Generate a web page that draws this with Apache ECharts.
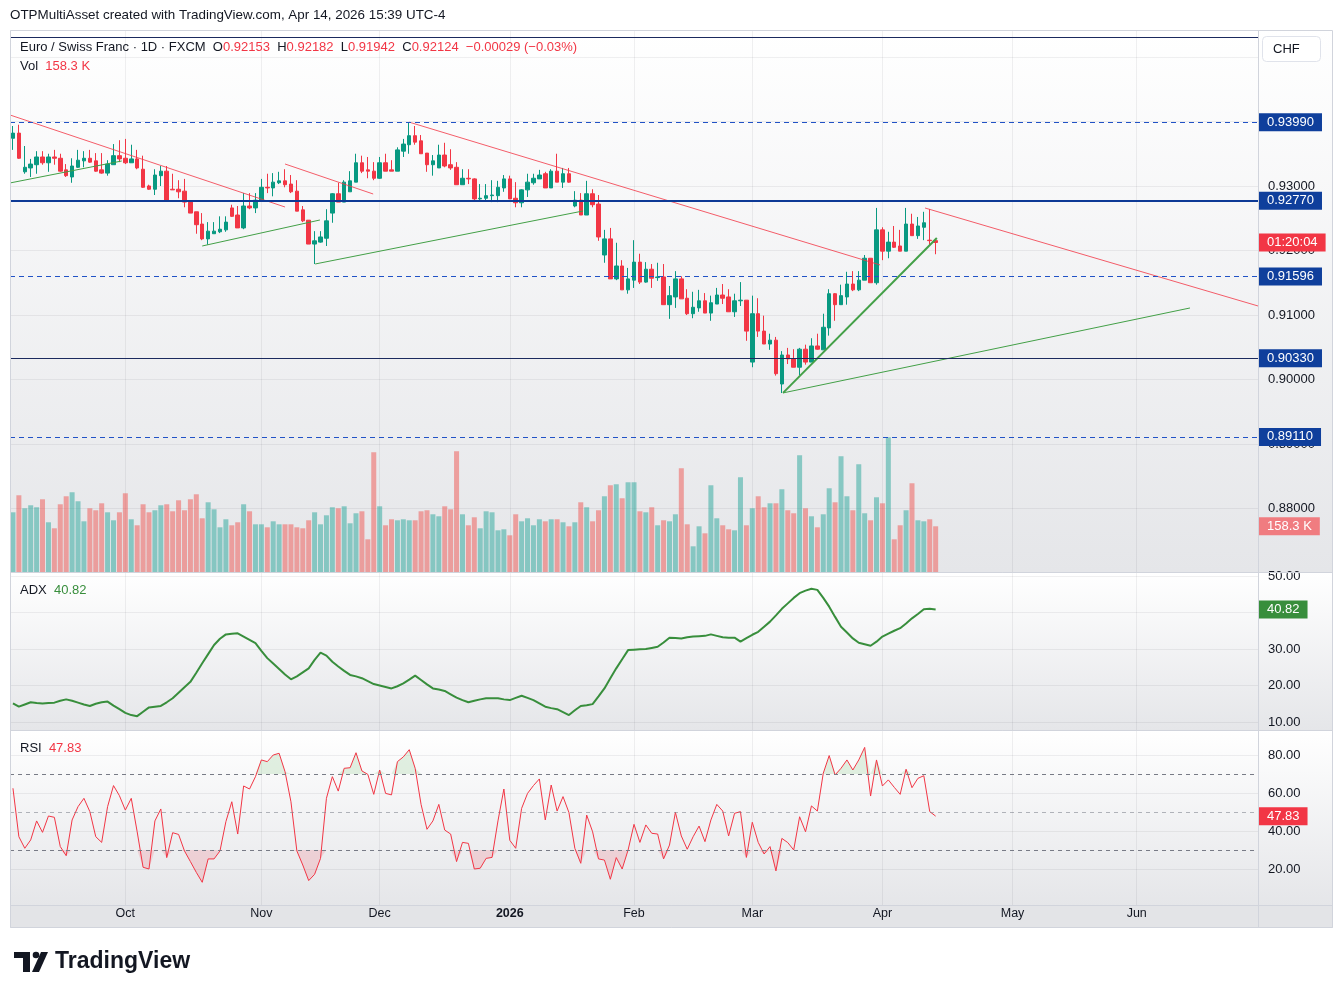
<!DOCTYPE html>
<html><head><meta charset="utf-8">
<script src="https://cdn.jsdelivr.net/npm/echarts@6/dist/echarts.min.js"></script>
<style>html,body{margin:0;padding:0;background:#fff;}#c{width:1343px;height:996px;}</style>
</head><body><div id="c"></div>
<script>
// ---------------- DATA ----------------
const opens = [0.9374,0.9382,0.9322,0.9328,0.9333,0.9345,0.9336,0.9345,0.9343,0.9325,
0.9314,0.9329,0.9339,0.9343,0.9339,0.9325,0.9320,0.9333,0.9347,0.9343,
0.9336,0.9342,0.9326,0.9300,0.9295,0.9316,0.9323,0.9295,0.9295,0.9292,
0.9275,0.9260,0.9241,0.9218,0.9226,0.9229,0.9232,0.9266,0.9255,0.9235,
0.9269,0.9266,0.9277,0.9298,0.9297,0.9305,0.9308,0.9303,0.9292,0.9263,
0.9247,0.9210,0.9213,0.9219,0.9258,0.9288,0.9275,0.9291,0.9306,0.9336,
0.9325,0.9323,0.9312,0.9336,0.9325,0.9323,0.9354,0.9364,0.9378,0.9370,
0.9351,0.9333,0.9328,0.9348,0.9333,0.9329,0.9302,0.9312,0.9311,0.9280,
0.9281,0.9285,0.9285,0.9297,0.9311,0.9281,0.9274,0.9294,0.9305,0.9311,
0.9319,0.9297,0.9323,0.9306,0.9319,0.9269,0.9278,0.9255,0.9288,0.9272,
0.9193,0.9218,0.9156,0.9176,0.9139,0.9154,0.9182,0.9151,0.9171,0.9158,
0.9159,0.9116,0.9128,0.9156,0.9126,0.9102,0.9111,0.9122,0.9103,0.9117,
0.9131,0.9128,0.9105,0.9122,0.9123,0.9027,0.9102,0.9075,0.9055,0.9061,
0.8993,0.9038,0.9032,0.9019,0.9047,0.9027,0.9052,0.9046,0.9080,0.9133,
0.9116,0.9128,0.9148,0.9139,0.9154,0.9188,0.9150,0.9232,0.9199,0.9213,
0.9207,0.9199,0.9241,0.9223,0.9236,0.9216,0.92153];
const highs = [0.9393,0.9395,0.9362,0.9342,0.9354,0.9354,0.9350,0.9356,0.9350,0.9334,
0.9343,0.9356,0.9354,0.9356,0.9351,0.9351,0.9340,0.9365,0.9371,0.9373,
0.9364,0.9356,0.9347,0.9302,0.9326,0.9331,0.9331,0.9319,0.9309,0.9311,
0.9278,0.9260,0.9258,0.9244,0.9244,0.9253,0.9253,0.9271,0.9269,0.9289,
0.9289,0.9289,0.9311,0.9319,0.9320,0.9322,0.9326,0.9317,0.9309,0.9269,
0.9247,0.9230,0.9230,0.9264,0.9289,0.9305,0.9309,0.9323,0.9350,0.9347,
0.9345,0.9337,0.9345,0.9350,0.9340,0.9360,0.9373,0.9399,0.9393,0.9379,
0.9351,0.9348,0.9364,0.9367,0.9357,0.9337,0.9326,0.9326,0.9312,0.9303,
0.9303,0.9309,0.9308,0.9317,0.9316,0.9306,0.9295,0.9319,0.9319,0.9325,
0.9322,0.9326,0.9350,0.9328,0.9328,0.9292,0.9289,0.9308,0.9295,0.9286,
0.9232,0.9235,0.9212,0.9185,0.9173,0.9216,0.9195,0.9182,0.9179,0.9181,
0.9179,0.9145,0.9168,0.9160,0.9140,0.9136,0.9139,0.9134,0.9130,0.9142,
0.9148,0.9140,0.9133,0.9151,0.9123,0.9130,0.9126,0.9099,0.9071,0.9066,
0.9044,0.9049,0.9047,0.9049,0.9054,0.9064,0.9071,0.9102,0.9140,0.9134,
0.9147,0.9167,0.9168,0.9168,0.9193,0.9188,0.9266,0.9236,0.9229,0.9238,
0.9232,0.9266,0.9257,0.9252,0.9260,0.9264,0.92182];
const lows = [0.9356,0.9342,0.9319,0.9314,0.9319,0.9333,0.9322,0.9333,0.9322,0.9314,
0.9305,0.9328,0.9329,0.9336,0.9322,0.9319,0.9316,0.9333,0.9337,0.9334,
0.9336,0.9326,0.9297,0.9294,0.9286,0.9300,0.9278,0.9294,0.9281,0.9267,
0.9258,0.9226,0.9216,0.9209,0.9226,0.9227,0.9229,0.9252,0.9235,0.9233,
0.9264,0.9258,0.9277,0.9289,0.9284,0.9303,0.9298,0.9289,0.9261,0.9244,
0.9210,0.9179,0.9212,0.9207,0.9243,0.9275,0.9275,0.9291,0.9306,0.9320,
0.9312,0.9309,0.9311,0.9323,0.9323,0.9323,0.9345,0.9350,0.9364,0.9350,
0.9322,0.9316,0.9328,0.9329,0.9325,0.9302,0.9302,0.9303,0.9278,0.9277,
0.9278,0.9275,0.9275,0.9291,0.9280,0.9267,0.9267,0.9283,0.9302,0.9311,
0.9297,0.9297,0.9306,0.9297,0.9305,0.9267,0.9255,0.9255,0.9267,0.9215,
0.9181,0.9156,0.9154,0.9139,0.9133,0.9142,0.9148,0.9150,0.9142,0.9153,
0.9116,0.9094,0.9111,0.9125,0.9100,0.9095,0.9105,0.9103,0.9091,0.9117,
0.9117,0.9105,0.9097,0.9114,0.9060,0.9019,0.9066,0.9055,0.9046,0.9006,
0.8979,0.9024,0.9019,0.9007,0.9023,0.9027,0.9046,0.9046,0.9068,0.9091,
0.9116,0.9116,0.9137,0.9137,0.9154,0.9150,0.9147,0.9185,0.9188,0.9204,
0.9199,0.9199,0.9223,0.9218,0.9216,0.9209,0.91942];
const closes = [0.9382,0.9343,0.9329,0.9334,0.9345,0.9336,0.9345,0.9343,0.9323,0.9316,
0.9331,0.9340,0.9343,0.9337,0.9323,0.9320,0.9334,0.9347,0.9342,0.9336,
0.9342,0.9328,0.9298,0.9295,0.9317,0.9323,0.9278,0.9294,0.9291,0.9275,
0.9258,0.9240,0.9218,0.9230,0.9230,0.9233,0.9244,0.9253,0.9235,0.9269,
0.9266,0.9278,0.9298,0.9297,0.9306,0.9308,0.9302,0.9291,0.9261,0.9246,
0.9210,0.9215,0.9221,0.9246,0.9288,0.9275,0.9306,0.9308,0.9336,0.9323,
0.9323,0.9312,0.9336,0.9323,0.9323,0.9356,0.9365,0.9378,0.9368,0.9350,
0.9333,0.9339,0.9348,0.9331,0.9328,0.9302,0.9312,0.9311,0.9280,0.9281,
0.9285,0.9286,0.9298,0.9311,0.9280,0.9274,0.9294,0.9306,0.9312,0.9317,
0.9297,0.9323,0.9306,0.9319,0.9306,0.9278,0.9255,0.9288,0.9271,0.9221,
0.9218,0.9156,0.9176,0.9139,0.9156,0.9182,0.9151,0.9171,0.9157,0.9159,
0.9116,0.9130,0.9156,0.9125,0.9102,0.9112,0.9122,0.9103,0.9119,0.9131,
0.9126,0.9105,0.9122,0.9123,0.9075,0.9102,0.9075,0.9055,0.9061,0.9009,
0.9038,0.9032,0.9019,0.9047,0.9027,0.9052,0.9047,0.9081,0.9133,0.9116,
0.9130,0.9148,0.9139,0.9154,0.9188,0.9150,0.9232,0.9199,0.9213,0.9205,
0.9199,0.9241,0.9223,0.9238,0.9243,0.92153,0.92124];
const volumesK = [206.8,265.8,220.7,231.1,224.2,251.9,172.2,151.4,234.6,262.3,
276.2,245.0,175.6,220.7,213.8,238.0,206.8,179.1,206.8,272.7,
182.6,161.8,234.6,206.8,213.8,231.1,234.6,210.3,248.4,213.8,
251.9,269.2,186.0,241.5,217.2,154.8,182.6,161.8,172.2,234.6,
210.3,165.2,165.2,154.8,175.6,165.2,165.2,165.2,154.8,151.4,
179.1,206.8,165.2,196.4,224.2,220.7,227.6,168.7,203.4,210.3,
113.2,414.8,227.6,161.8,182.6,179.1,182.6,179.1,179.1,210.3,
213.8,199.9,193.0,227.6,217.2,418.3,199.9,161.8,189.5,151.4,
210.3,206.8,144.4,147.9,127.1,199.9,175.6,186.0,161.8,182.6,
175.6,182.6,182.6,172.2,158.3,172.2,241.5,224.2,175.6,213.8,
262.3,300.4,303.9,255.4,310.8,310.8,210.3,206.8,224.2,161.8,
179.1,175.6,199.9,359.4,165.2,89.0,158.3,134.0,300.4,186.0,
161.8,147.9,144.4,328.2,161.8,220.7,262.3,224.2,238.0,238.0,
286.6,213.8,203.4,404.4,220.7,193.0,154.8,199.9,290.0,241.5,
401.0,262.3,213.8,373.2,203.4,179.1,258.8,238.0,466.8,113.2,
161.8,213.8,307.4,179.1,175.6,182.6,158.3];
const adxValues = [15.1,14.2,14.8,15.4,15.2,15.1,15.2,15.3,15.8,16.2,
15.8,15.3,14.8,14.4,15.0,15.4,15.6,14.5,13.5,12.5,
11.9,11.6,12.8,14.0,14.2,14.4,15.4,16.5,18.0,19.5,
21.0,23.5,26.1,28.6,31.1,32.8,34.0,34.2,34.3,33.4,
32.5,31.6,29.5,27.5,26.0,24.5,23.0,21.7,22.5,23.6,
24.7,27.0,29.0,28.2,26.5,25.2,24.0,22.9,22.5,22.0,
21.2,20.4,20.0,19.6,19.2,19.8,20.6,21.6,22.7,21.5,
20.3,19.2,18.9,18.5,17.6,16.7,16.0,15.4,15.8,16.2,
16.5,16.5,16.5,16.2,16.0,16.6,17.2,16.6,16.0,15.1,
14.2,13.8,13.5,12.7,11.9,13.2,14.4,14.6,14.9,17.0,
19.2,22.0,24.7,27.2,29.7,29.8,29.9,30.0,30.3,30.6,
31.8,33.1,33.0,32.9,33.2,33.4,33.5,33.6,34.0,33.6,
33.2,33.1,33.1,32.0,33.0,33.9,34.7,36.1,37.5,39.2,
41.0,42.5,44.0,45.3,46.0,46.5,46.2,44.0,41.6,38.8,
36.1,34.5,32.9,31.7,31.3,30.9,32.0,33.4,34.2,35.0,
35.7,37.0,38.4,39.6,40.9,41.0,40.82];
const rsiValues = [62.5,37.0,30.9,35.3,45.3,39.3,47.9,47.2,31.8,27.0,
45.8,52.8,57.2,50.2,37.0,34.0,52.8,63.9,58.6,51.0,
57.2,39.6,20.9,20.0,45.3,51.6,26.0,39.1,38.2,29.5,
23.9,18.2,13.0,25.3,25.3,29.5,44.9,55.4,38.4,63.7,
62.1,68.6,77.4,76.5,80.0,80.9,71.2,55.4,29.5,22.1,
13.9,17.2,25.6,57.2,68.6,61.0,73.0,73.3,81.2,71.6,
69.8,59.3,72.1,59.8,59.0,76.5,79.0,82.8,73.0,54.0,
40.9,45.3,54.0,40.5,38.4,23.9,34.0,33.5,20.0,20.4,
25.6,26.1,45.3,62.1,35.1,30.9,51.9,59.8,63.9,67.4,
45.8,64.2,50.5,58.1,49.7,30.9,23.0,48.4,39.6,25.3,
24.7,14.6,26.0,20.0,30.0,43.5,34.0,43.2,38.8,38.4,
25.3,32.6,49.8,37.4,30.4,37.0,42.6,34.4,45.8,54.0,
50.5,37.4,49.3,50.2,26.1,44.6,34.0,27.9,31.8,19.0,
36.1,33.9,30.0,47.5,39.6,53.2,50.5,70.4,79.7,69.5,
73.0,77.4,72.1,77.4,84.0,58.4,77.4,63.7,66.9,63.0,
59.3,72.5,62.8,67.7,69.1,50.2,47.83];
// horizontal levels drawn on the chart
const levelPrices = [0.93990, 0.92770, 0.91596, 0.90330, 0.89110];
const topLinePrice = 0.9531;
// trend lines: [[barIndex, price], [barIndex, price]]
const redTrendlines = [
  [[-0.5, 0.94101], [46.0, 0.92674]],
  [[46.0, 0.93341], [60.9, 0.92876]],
  [[67.0, 0.93990], [146.6, 0.91776]],
  [[154.2, 0.92659], [210.5, 0.91140]]
];
const greenTrendlines = [
  [[-0.5, 0.93047], [18.4, 0.93388]],
  [[32.0, 0.92070], [51.9, 0.92473]],
  [[51.1, 0.91791], [96.4, 0.92613]],
  [[130.2, 0.89792], [156.2, 0.92194]],
  [[130.2, 0.89792], [199.0, 0.91109]]
];
const rsiBands = [70, 50, 30];
const countdownText = '01:20:04';
const firstDate = '2025-09-04';
const holidays = ['2025-12-25', '2026-01-01'];
const totalSlots = 211;   // 157 trading days + empty future space
const monthNames = ['Jan','Feb','Mar','Apr','May','Jun','Jul','Aug','Sep','Oct','Nov','Dec'];

// ---------------- STYLES ----------------
const FONT = '"Liberation Sans", Arial, sans-serif';
const UP = '#089981', DOWN = '#f23645';
const VOL_UP = 'rgba(38,166,154,0.5)', VOL_DOWN = 'rgba(239,83,80,0.5)';
const LEVEL_BLUE = '#2152c6';
const LABEL_BLUE = '#0f3f9c';
const levelStyles = [
  {type:[5,4], width:1, color:LEVEL_BLUE},
  {type:'solid', width:2, color:'#0d3a96'},
  {type:[5,4], width:1, color:LEVEL_BLUE},
  {type:'solid', width:1, color:'#1b2a5e'},
  {type:[5,4], width:1, color:LEVEL_BLUE}
];
const TEXT = '#131722';
const GRIDLINE = 'rgba(42,46,57,0.07)';
const HIDDEN_LINE = {color:'rgba(0,0,0,0)', width:1};

// ---------------- BUILD ----------------
const dates = [];
(function(){
  const d = new Date(firstDate + 'T00:00:00Z');
  while (dates.length < totalSlots) {
    const wd = d.getUTCDay();
    const s = d.toISOString().slice(0,10);
    if (wd !== 0 && wd !== 6 && holidays.indexOf(s) < 0) dates.push(s);
    d.setUTCDate(d.getUTCDate() + 1);
  }
})();
function isMonthStart(i){ return i > 0 && dates[i].slice(5,7) !== dates[i-1].slice(5,7); }
function monthLabel(v){
  const m = parseInt(v.slice(5,7),10)-1;
  return m === 0 ? '{b|' + v.slice(0,4) + '}' : monthNames[m];
}
const n = closes.length;
const last = n - 1;
const candleData = opens.map((o,i)=>[o, closes[i], lows[i], highs[i]]);
const volData = volumesK.map((v,i)=>({value:v, itemStyle:{color: closes[i] >= opens[i] ? VOL_UP : VOL_DOWN}}));
const rsiObBase = rsiValues.map(()=>70);
const rsiObTop = rsiValues.map(v=>Math.max(v-70,0));
const rsiOsBase = rsiValues.map(v=>Math.min(v,30));
const rsiOsTop = rsiValues.map(v=>30-Math.min(v,30));

const chg = closes[last] - closes[last-1];
const chgPct = chg / closes[last-1] * 100;
const fmtSigned = (x, d) => (x < 0 ? '\u2212' : '+') + Math.abs(x).toFixed(d);

function axisLabelBox(text, bg){
  return {show:true, position:'end', distance:1, formatter:text, color:'#fff', backgroundColor:bg,
    padding:[3,8,2,8], fontSize:13, fontFamily:FONT, lineHeight:13, opacity:1};
}

const catX = (gridIndex, showLabels) => ({
  type:'category', gridIndex, data:dates, boundaryGap:true,
  axisLine:{show:false}, axisTick:{show:false},
  axisLabel: showLabels ? {
    show:true, interval:(i)=>isMonthStart(i), formatter:(v)=>monthLabel(v),
    color:TEXT, fontSize:12.5, fontFamily:FONT, margin:2,
    rich:{b:{fontWeight:'bold', fontSize:12.5, fontFamily:FONT, color:TEXT}}
  } : {show:false},
  splitLine:{show:true, interval:(i)=>isMonthStart(i), alignWithLabel:true, lineStyle:{color:GRIDLINE, width:1}}
});

const bgGrad = () => new echarts.graphic.LinearGradient(0,0,0,1,[{offset:0,color:'#ffffff'},{offset:1,color:'#e5e6e9'}]);

const series = [];
series.push({
  type:'candlestick', name:'EURCHF', xAxisIndex:0, yAxisIndex:0, data:candleData, barWidth:4, z:3, clip:false,
  itemStyle:{color:UP, color0:DOWN, borderColor:UP, borderColor0:DOWN, borderWidth:1},
  markLine:{symbol:['none','none'], silent:true, animation:false, precision:6,
    data: levelPrices.map((p,k)=>({yAxis:p, lineStyle:levelStyles[k], label:axisLabelBox(p.toFixed(5), LABEL_BLUE)}))
      .concat([{yAxis:topLinePrice, lineStyle:{type:'solid', width:1, color:'#1b2a5e'}, label:{show:false}},
               {yAxis:closes[last], lineStyle:HIDDEN_LINE, label:axisLabelBox(countdownText, '#f23645')}])
  }
});
series.push({
  type:'bar', name:'Volume', xAxisIndex:0, yAxisIndex:1, data:volData, barWidth:5, z:1, clip:false,
  markLine:{symbol:['none','none'], silent:true, animation:false, precision:6,
    data:[{yAxis:volumesK[last], lineStyle:HIDDEN_LINE, label:axisLabelBox(volumesK[last].toFixed(1)+' K', '#f07c80')}]}
});
redTrendlines.forEach(seg=>series.push({type:'line', xAxisIndex:1, yAxisIndex:0, data:seg, symbol:'none', silent:true, z:4,
  lineStyle:{color:'rgba(242,54,69,0.8)', width:1}}));
greenTrendlines.forEach((seg,k)=>series.push({type:'line', xAxisIndex:1, yAxisIndex:0, data:seg, symbol:'none', silent:true, z:4,
  lineStyle:{color:'#43a047', width: k===3 ? 2 : 1}}));
series.push({
  type:'line', name:'ADX', xAxisIndex:2, yAxisIndex:2, data:adxValues, symbol:'none', z:3, clip:false,
  lineStyle:{color:'#388e3c', width:2},
  markLine:{symbol:['none','none'], silent:true, animation:false, precision:6,
    data:[{yAxis:adxValues[last], lineStyle:HIDDEN_LINE, label:axisLabelBox(adxValues[last].toFixed(2), '#388e3c')}]}
});
series.push({type:'line', xAxisIndex:3, yAxisIndex:3, data:rsiObBase, stack:'ob', symbol:'none', silent:true, lineStyle:{opacity:0}, z:1});
series.push({type:'line', xAxisIndex:3, yAxisIndex:3, data:rsiObTop, stack:'ob', symbol:'none', silent:true, lineStyle:{opacity:0}, z:1,
  areaStyle:{color:'rgba(76,175,80,0.22)'}});
series.push({type:'line', xAxisIndex:3, yAxisIndex:3, data:rsiOsBase, stack:'os', symbol:'none', silent:true, lineStyle:{opacity:0}, z:1});
series.push({type:'line', xAxisIndex:3, yAxisIndex:3, data:rsiOsTop, stack:'os', symbol:'none', silent:true, lineStyle:{opacity:0}, z:1,
  areaStyle:{color:'rgba(242,54,69,0.22)'}});
series.push({
  type:'line', name:'RSI', xAxisIndex:3, yAxisIndex:3, data:rsiValues, symbol:'none', z:3, clip:false,
  lineStyle:{color:'#f23645', width:1},
  markLine:{symbol:['none','none'], silent:true, animation:false, precision:6,
    data: rsiBands.map(b=>({yAxis:b, label:{show:false},
      lineStyle:{type:[4,4], width:1, color: b===50 ? 'rgba(120,123,134,0.55)' : '#787b86'}}))
      .concat([{yAxis:rsiValues[last], lineStyle:HIDDEN_LINE, label:axisLabelBox(rsiValues[last].toFixed(2), '#f23645')}])
  }
});

const yAxisBase = (gridIndex, min, max, split, fmt) => ({
  type:'value', gridIndex, position:'right', min, max, scale:true, splitNumber:split,
  axisLine:{show:false}, axisTick:{show:false},
  axisLabel:{show:true, color:TEXT, fontSize:13, fontFamily:FONT, margin:10, showMinLabel:false, showMaxLabel:false, formatter:fmt},
  splitLine:{show:true, lineStyle:{color:GRIDLINE}}
});

const legendRich = {
  k:{fill:TEXT, fontSize:13, fontFamily:FONT},
  r:{fill:'#f23645', fontSize:13, fontFamily:FONT},
  g:{fill:'#388e3c', fontSize:13, fontFamily:FONT}
};

const option = {
  backgroundColor:'#ffffff',
  animation:false,
  grid:[
    {left:10, top:30, width:1248, height:542, outerBoundsMode:'none'},
    {left:10, top:572, width:1248, height:158, outerBoundsMode:'none'},
    {left:10, top:730, width:1248, height:175, outerBoundsMode:'none'}
  ],
  xAxis:[
    catX(0,false),
    {type:'value', gridIndex:0, min:-0.5, max:totalSlots-0.5, show:false},
    catX(1,false),
    catX(2,true)
  ],
  yAxis:[
    yAxisBase(0, 0.870155, 0.954186, 9, v => v > 0.945 ? '' : v.toFixed(5)),
    {type:'value', gridIndex:0, min:0, max:1877.5, show:false},
    yAxisBase(1, 7.808, 51.096, 5, v => v.toFixed(2)),
    yAxisBase(2, 1.053, 93.16, 5, v => v.toFixed(2))
  ],
  series,
  graphic:[
    // pane backgrounds
    {type:'rect', z:-10, silent:true, shape:{x:10,y:30,width:1323,height:542}, style:{fill:bgGrad()}},
    {type:'rect', z:-10, silent:true, shape:{x:10,y:572,width:1323,height:158}, style:{fill:bgGrad()}},
    {type:'rect', z:-10, silent:true, shape:{x:10,y:730,width:1323,height:175}, style:{fill:bgGrad()}},
    {type:'rect', z:-10, silent:true, shape:{x:10,y:905,width:1323,height:23}, style:{fill:'#e3e4e7'}},
    // separators and frame
    {type:'line', z:50, silent:true, shape:{x1:10,y1:572.5,x2:1333,y2:572.5}, style:{stroke:'#d1d4dc', lineWidth:1}},
    {type:'line', z:50, silent:true, shape:{x1:10,y1:730.5,x2:1333,y2:730.5}, style:{stroke:'#d1d4dc', lineWidth:1}},
    {type:'line', z:50, silent:true, shape:{x1:10,y1:905.5,x2:1333,y2:905.5}, style:{stroke:'#d1d4dc', lineWidth:1}},
    {type:'line', z:50, silent:true, shape:{x1:1258.5,y1:30,x2:1258.5,y2:928}, style:{stroke:'#d1d4dc', lineWidth:1}},
    {type:'rect', z:50, silent:true, shape:{x:10.5,y:30.5,width:1322,height:897}, style:{fill:'none', stroke:'#d1d4dc', lineWidth:1}},
    // CHF box
    {type:'rect', z:60, silent:true, shape:{x:1262.5,y:36.5,width:58,height:25,r:4}, style:{fill:'#ffffff', stroke:'#e0e3eb', lineWidth:1}},
    {type:'text', z:61, silent:true, x:1273, y:49, style:{text:'CHF', fill:TEXT, font:'13px '+FONT, verticalAlign:'middle'}},
    // header
    {type:'text', z:60, silent:true, x:10, y:15, style:{text:'OTPMultiAsset created with TradingView.com, Apr 14, 2026 15:39 UTC-4', fill:TEXT, font:'13.4px '+FONT, verticalAlign:'middle'}},
    // legends
    {type:'text', z:60, silent:true, x:20, y:47, style:{
      text:'{k|Euro / Swiss Franc \u00b7 1D \u00b7 FXCM  O}{r|'+opens[last].toFixed(5)+'}{k|  H}{r|'+highs[last].toFixed(5)+'}{k|  L}{r|'+lows[last].toFixed(5)+'}{k|  C}{r|'+closes[last].toFixed(5)+'}{r|  '+fmtSigned(chg,5)+' ('+fmtSigned(chgPct,2)+'%)}',
      rich:legendRich, verticalAlign:'middle'}},
    {type:'text', z:60, silent:true, x:20, y:66, style:{text:'{k|Vol}{r|  '+volumesK[last].toFixed(1)+' K}', rich:legendRich, verticalAlign:'middle'}},
    {type:'text', z:60, silent:true, x:20, y:590, style:{text:'{k|ADX}{g|  '+adxValues[last].toFixed(2)+'}', rich:legendRich, verticalAlign:'middle'}},
    {type:'text', z:60, silent:true, x:20, y:748, style:{text:'{k|RSI}{r|  '+rsiValues[last].toFixed(2)+'}', rich:legendRich, verticalAlign:'middle'}},
    // TradingView logo
    {type:'rect', z:60, silent:true, shape:{x:14,y:952,width:16,height:6}, style:{fill:'#131722'}},
    {type:'rect', z:60, silent:true, shape:{x:23,y:952,width:7,height:20}, style:{fill:'#131722'}},
    {type:'circle', z:60, silent:true, shape:{cx:36,cy:955,r:3.3}, style:{fill:'#131722'}},
    {type:'polygon', z:60, silent:true, shape:{points:[[41,952],[48,952],[39,972],[32,972]]}, style:{fill:'#131722'}},
    {type:'text', z:60, silent:true, x:55, y:962, style:{text:'TradingView', fill:'#131722', font:'bold 23px '+FONT, verticalAlign:'middle'}}
  ]
};
const chart = echarts.init(document.getElementById('c'), null, {renderer:'canvas', width:1343, height:996});
chart.setOption(option);
</script>
</body></html>
